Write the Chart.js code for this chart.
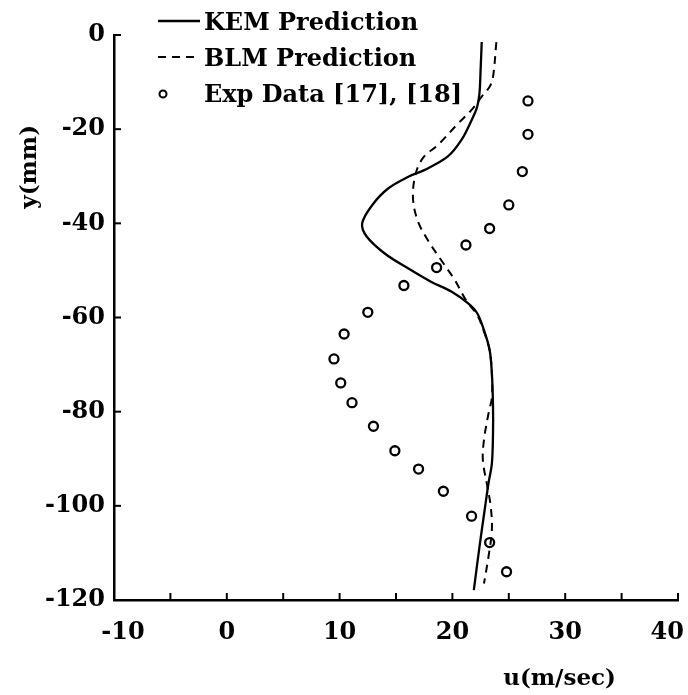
<!DOCTYPE html>
<html>
<head>
<meta charset="utf-8">
<script src="https://cdn.jsdelivr.net/npm/chart.js@4.4.1/dist/chart.umd.min.js"></script>
<style>
  html, body { margin: 0; padding: 0; background: #fff; }
  #wrap { position: relative; width: 688px; height: 695px; }
</style>
</head>
<body>
<div id="wrap"><canvas id="c"></canvas></div>
<script>
// ---- Data ----
const kemU = [22.6, 22.5, 22.4, 22.2, 21.7, 20.8, 19.6, 17.5, 16.1, 14.3, 12.9, 12.0, 12.4, 14.0, 16.1, 18.1, 19.9, 21.4, 22.2, 22.8, 23.3, 23.5, 23.6, 23.6, 23.5, 23.2, 22.9, 22.4, 21.9];
const kemY = [-1.5, -7.4, -12.4, -15.2, -18.1, -22.3, -25.8, -28.7, -30.1, -32.6, -36.1, -40.0, -42.8, -46.4, -49.6, -52.4, -54.5, -57.0, -59.1, -62.7, -66.9, -71.9, -78.9, -84.6, -91.0, -95.2, -100.2, -108.7, -117.9];

const blmU = [23.9, 23.6, 23.3, 22.6, 21.7, 20.5, 18.7, 17.5, 16.8, 16.5, 16.9, 17.8, 19.0, 20.2, 21.2, 22.2, 22.8, 23.3, 23.5, 23.5, 23.2, 22.8, 22.7, 23.1, 23.4, 23.5, 23.2, 22.8];
const blmY = [-1.5, -8.9, -11.0, -13.1, -15.9, -18.8, -23.4, -25.8, -29.0, -34.3, -39.3, -43.5, -47.8, -52.0, -56.3, -59.5, -63.0, -67.0, -72.0, -77.0, -80.4, -86.0, -90.3, -95.9, -100.2, -105.1, -110.8, -116.5];

const expU = [26.7, 26.7, 26.2, 25.0, 23.3, 21.2, 18.6, 15.7, 12.5, 10.4, 9.5, 10.1, 11.1, 13.0, 14.9, 17.0, 19.2, 21.7, 23.3, 24.8];
const expY = [-14.0, -21.1, -29.0, -36.1, -41.1, -44.6, -49.4, -53.2, -58.9, -63.5, -68.8, -73.9, -78.1, -83.1, -88.3, -92.2, -96.9, -102.2, -107.8, -114.0];

const seriesLabels = ['KEM Prediction', 'BLM Prediction', 'Exp Data [17], [18]'];
const xTitle = 'u(m/sec)';
const yTitle = 'y(mm)';
const xMin = -10, xMax = 40, xMinorStep = 5, xLabelStep = 10;
const yMin = -120, yMax = 0, yStep = 20;

const FONT = '"DejaVu Serif", "Liberation Serif", serif';
const pts = (xs, ys) => xs.map((x, i) => ({ x: x, y: ys[i] }));

// inward ticks, x tick labels, axis titles and legend drawn through the scales
const extras = {
  id: 'extras',
  afterDatasetsDraw(chart) {
    const ctx = chart.ctx;
    const xs = chart.scales.x, ys = chart.scales.y;
    const a = chart.chartArea;
    ctx.save();
    ctx.strokeStyle = '#000';
    ctx.fillStyle = '#000';
    ctx.lineWidth = 2;
    xs.ticks.forEach(t => {
      if (t.value === xMin) return;
      const px = xs.getPixelForValue(t.value);
      ctx.beginPath(); ctx.moveTo(px, a.bottom); ctx.lineTo(px, a.bottom - 7); ctx.stroke();
    });
    ys.ticks.forEach(t => {
      if (t.value === yMin) return;
      const py = ys.getPixelForValue(t.value);
      ctx.beginPath(); ctx.moveTo(a.left, py); ctx.lineTo(a.left + 7, py); ctx.stroke();
    });
    // x tick labels (every 10), end labels kept inside the picture
    ctx.font = 'bold 24px ' + FONT;
    ctx.textAlign = 'center';
    ctx.textBaseline = 'middle';
    xs.ticks.forEach(t => {
      if (t.value % xLabelStep !== 0) return;
      const s = String(t.value);
      const w = ctx.measureText(s).width;
      let cx = xs.getPixelForValue(t.value);
      if (t.value === xMin) cx += 9;
      if (cx + w / 2 > chart.width - 4) cx = chart.width - 4 - w / 2;
      ctx.fillText(s, cx, a.bottom + 33);
    });
    // axis titles
    ctx.font = 'bold 23px ' + FONT;
    ctx.fillText(xTitle, xs.getPixelForValue(29.5), 679);
    ctx.save();
    ctx.translate(30, ys.getPixelForValue(-28));
    ctx.rotate(-Math.PI / 2);
    ctx.fillText(yTitle, 0, 0);
    ctx.restore();
    // legend
    const lx = a.left + 44, rowH = 36, top = 21;
    ctx.textAlign = 'left';
    ctx.font = 'bold 24px ' + FONT;
    chart.data.datasets.forEach((ds, i) => {
      const y = top + i * rowH;
      if (ds.showLine) {
        ctx.save();
        ctx.lineWidth = ds.borderWidth;
        ctx.setLineDash(ds.borderDash || []);
        ctx.beginPath(); ctx.moveTo(lx, y); ctx.lineTo(lx + 42, y); ctx.stroke();
        ctx.restore();
      } else {
        ctx.save();
        ctx.lineWidth = 2;
        ctx.beginPath(); ctx.arc(lx + 5, y + 1, 3.5, 0, Math.PI * 2); ctx.stroke();
        ctx.restore();
      }
      ctx.fillText(ds.label, lx + 46, y + 3);
    });
    ctx.restore();
  }
};

new Chart(document.getElementById('c'), {
  type: 'scatter',
  data: {
    datasets: [
      { label: seriesLabels[0], data: pts(kemU, kemY), showLine: true, borderColor: '#000', borderWidth: 2.3, tension: 0.35, pointRadius: 0, fill: false },
      { label: seriesLabels[1], data: pts(blmU, blmY), showLine: true, borderColor: '#000', borderWidth: 2, borderDash: [8, 6], tension: 0.35, pointRadius: 0, fill: false },
      { label: seriesLabels[2], data: pts(expU, expY), showLine: false, borderColor: '#000', backgroundColor: 'rgba(0,0,0,0)', pointRadius: 4.5, pointBorderWidth: 2.3 }
    ]
  },
  options: {
    responsive: true,
    maintainAspectRatio: false,
    animation: false,
    layout: { padding: { top: 35, right: 10, left: 0, bottom: 0 } },
    plugins: { legend: { display: false }, tooltip: { enabled: false } },
    scales: {
      x: {
        type: 'linear', min: xMin, max: xMax,
        afterFit(s) { s.height = 95; s.paddingLeft = 0; s.paddingRight = 0; },
        border: { display: true, color: '#000', width: 2.5 },
        grid: { display: true, drawOnChartArea: false, drawTicks: false },
        ticks: {
          display: false,
          stepSize: xMinorStep, maxRotation: 0, autoSkip: false,
          font: { family: FONT, size: 24, weight: 'bold' }
        }
      },
      y: {
        type: 'linear', min: yMin, max: yMax,
        afterFit(s) { s.width = 114; s.paddingTop = 0; s.paddingBottom = 0; },
        border: { display: true, color: '#000', width: 2.5 },
        grid: { display: true, drawOnChartArea: false, drawTicks: false },
        ticks: {
          stepSize: yStep, color: '#000', padding: 9,
          font: { family: FONT, size: 24, weight: 'bold' }
        }
      }
    }
  },
  plugins: [extras]
});
</script>
</body>
</html>
